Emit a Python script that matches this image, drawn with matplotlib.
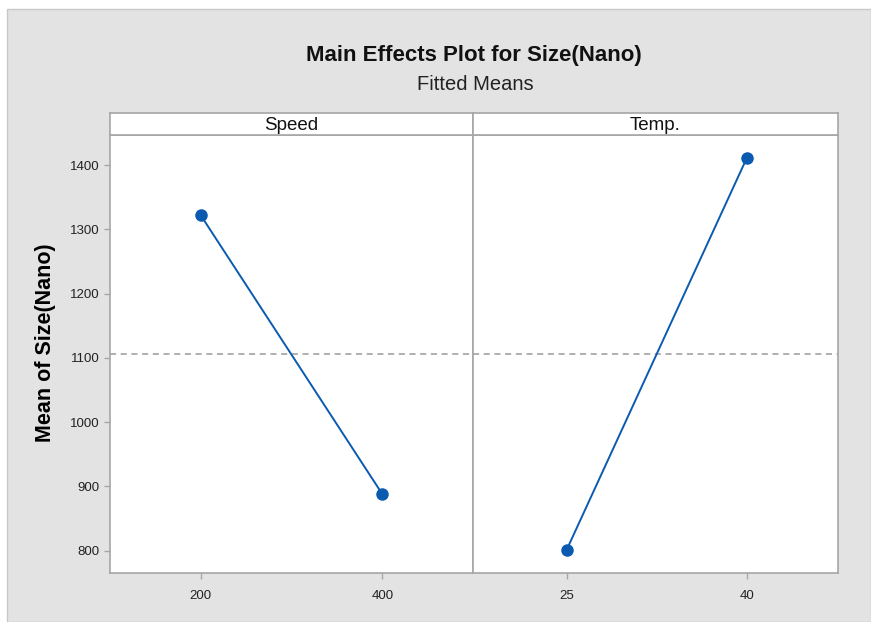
import matplotlib
matplotlib.use("Agg")
import matplotlib.pyplot as plt
from matplotlib.patches import Rectangle

plt.rcParams['font.family'] = ['Liberation Sans', 'DejaVu Sans']

# fitted means
speed_levels = [200, 400]
speed_means = [1322, 888]
temp_levels = [25, 40]
temp_means = [801, 1411]
grand_mean = 1106
y_ticks = [800, 900, 1000, 1100, 1200, 1300, 1400]

W, H = 871, 622
line_col = '#0a5bb0'
frame_col = '#a6a6a6'

fig = plt.figure(figsize=(W / 100, H / 100), dpi=100)
fig.patches.append(Rectangle((7 / W, 0), 1 - 7 / W, 1 - 9 / H, transform=fig.transFigure,
                             facecolor='#e3e3e3', edgecolor='#c8c8c8', lw=1, zorder=-10))

def px_axes(x0, x1, y0, y1):
    return fig.add_axes([x0 / W, 1 - y1 / H, (x1 - x0) / W, (y1 - y0) / H])

def panel(x0, x1, levels, means, xlim, label, first):
    ax = px_axes(x0, x1, 135, 573)
    ax.plot(levels, means, '-o', color=line_col, lw=1.4, ms=8, zorder=3)
    ax.axhline(grand_mean, color='#9a9a9a', ls=(0, (4, 3)), lw=1.1)
    ax.set_xlim(*xlim)
    ax.set_ylim(765, 1447)
    ax.set_xticks(levels)
    ax.set_xticklabels([str(v) for v in levels])
    ax.set_yticks(y_ticks)
    for s in ax.spines.values():
        s.set_color(frame_col)
        s.set_linewidth(1.2)
    ax.tick_params(colors=frame_col, labelcolor='#222222', labelsize=9.5, length=4, width=1)
    ax.tick_params(axis='x', pad=8)
    if not first:
        ax.tick_params(axis='y', left=False, labelleft=False)
    else:
        ax.set_ylabel('Mean of Size(Nano)', fontsize=15.5, fontweight='bold')
        ax.yaxis.set_label_coords(-0.15, 0.525)
    strip = px_axes(x0, x1, 113, 135)
    strip.set_xticks([])
    strip.set_yticks([])
    for s in strip.spines.values():
        s.set_color(frame_col)
        s.set_linewidth(1.2)
    strip.text(0.5, 0.45, label, ha='center', va='center', fontsize=13.5, color='#111111',
               transform=strip.transAxes)
    return ax

panel(110, 473, speed_levels, speed_means, (100, 500), 'Speed', True)
panel(473, 838, temp_levels, temp_means, (17.2, 47.6), 'Temp.', False)

fig.text(474 / W, 1 - 55 / H, 'Main Effects Plot for Size(Nano)', ha='center', va='center',
         fontsize=16, fontweight='bold', color='#111111')
fig.text(475 / W, 1 - 84 / H, 'Fitted Means', ha='center', va='center',
         fontsize=14.5, color='#222222')

fig.savefig('out.png', dpi=100)
